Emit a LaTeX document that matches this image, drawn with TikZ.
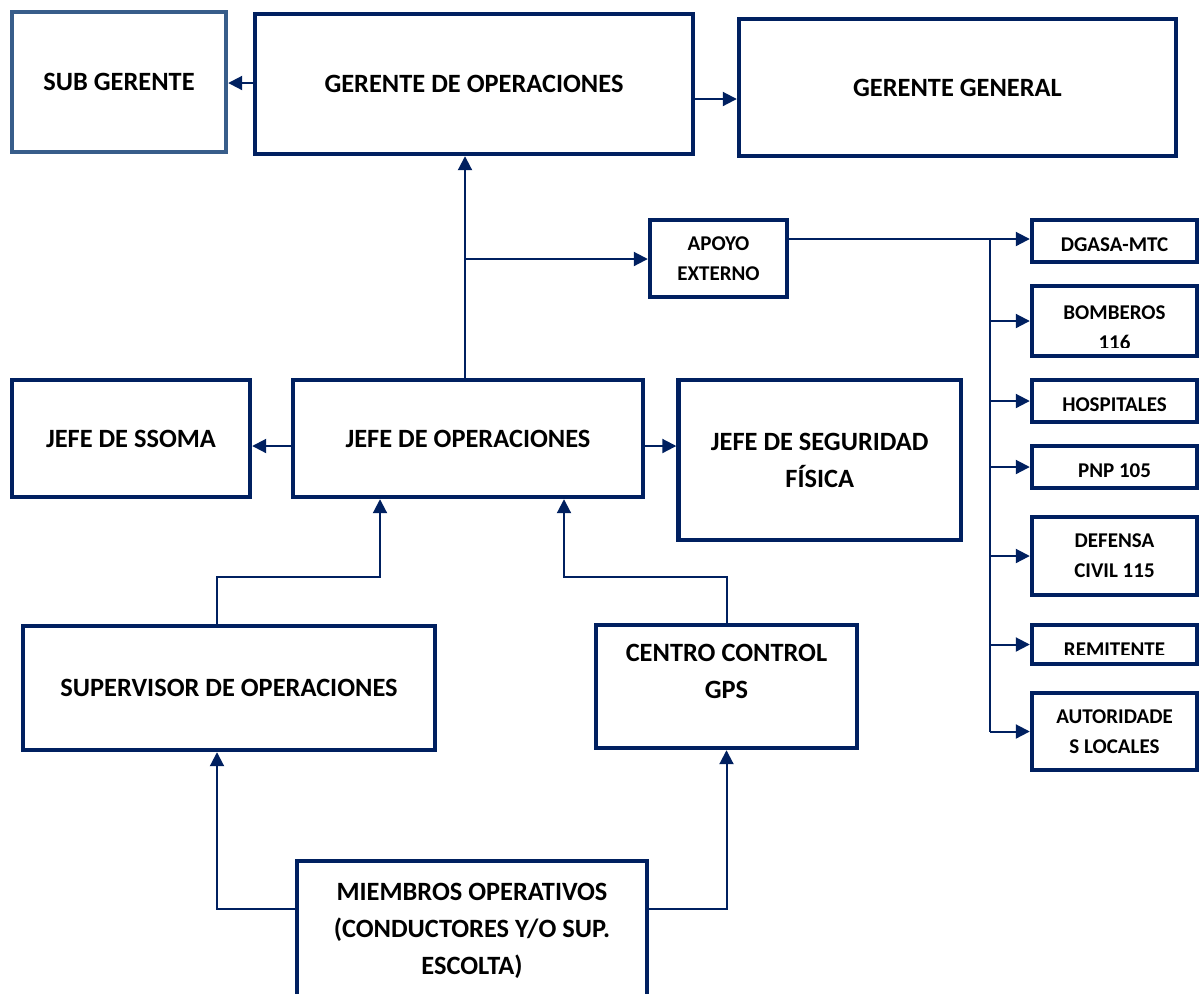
\documentclass[tikz,border=0pt]{standalone}
\usepackage{fontspec}
\setmainfont{Carlito}
\usetikzlibrary{arrows.meta}
\definecolor{navy}{HTML}{002060}
\definecolor{steel}{HTML}{385D8A}

\begin{document}
\begin{tikzpicture}[x=0.5pt,y=-0.5pt,
    txt/.style={inner sep=0pt,align=center,font=\bfseries\fontsize{13.2}{18.5}\selectfont},
    smalltxt/.style={inner sep=0pt,align=center,font=\bfseries\fontsize{10.5}{15}\selectfont},
    box/.style={txt,draw=navy,line width=2.2pt,rectangle},
    smallbox/.style={smalltxt,draw=navy,line width=2.2pt,rectangle,minimum width=82.5pt},
    oneline/.style={text height=10.8pt,text depth=0pt},
    conn/.style={draw=navy,line width=1pt,-{Triangle[length=7pt,width=7pt]}},
    link/.style={draw=navy,line width=1pt}]
    % Page size
    \useasboundingbox (0,0) rectangle (1200,993);
    \clip (0,0) rectangle (1200,993);

    % Top row
    \node[box,draw=steel,minimum width=107pt,minimum height=70pt] (subg) at (119,82) {SUB GERENTE};
    \node[box,minimum width=219pt,minimum height=70pt] (gop) at (474,84) {GERENTE DE OPERACIONES};
    \node[box,minimum width=218.5pt,minimum height=68.5pt] (gg) at (957.5,87.5) {GERENTE GENERAL};

    % Apoyo externo and its list
    \node[smallbox,minimum width=68.5pt,minimum height=38.5pt] (apoyo) at (718.5,258.5) {APOYO\\EXTERNO};
    \node[smallbox,oneline,minimum height=21pt] (dgasa) at (1114.5,241) {DGASA-MTC};
    \node[smallbox,minimum height=35pt] (bomb) at (1114.5,321) {};
    \node[smallbox,oneline,minimum height=21pt] (hosp) at (1114.5,401) {HOSPITALES};
    \node[smallbox,oneline,minimum height=21pt] (pnp) at (1114.5,467) {PNP 105};
    \node[smallbox,minimum height=39pt] (defensa) at (1114.5,556) {DEFENSA\\CIVIL 115};
    \node[smallbox,minimum height=19.5pt] (remit) at (1114.5,644.5) {};
    \node[smallbox,minimum height=38.5pt] (autor) at (1114.5,731.5) {AUTORIDADE\\S LOCALES};

    % Texts cut by their boxes
    \begin{scope}
        \clip (bomb.north west) rectangle ([yshift=5.6pt]bomb.south east);
        \node[smalltxt] (bombtxt) at (1114.5,327.5) {BOMBEROS\\116};
    \end{scope}
    \begin{scope}
        \clip (remit.north west) rectangle ([yshift=6.1pt]remit.south east);
        \node[smalltxt] (remittxt) at (1114.5,650) {REMITENTE};
    \end{scope}

    % Middle row
    \node[box,minimum width=119pt,minimum height=58.5pt] (ssoma) at (131,438.5) {JEFE DE SSOMA};
    \node[box,minimum width=175pt,minimum height=58.5pt] (jop) at (468,438.5) {JEFE DE OPERACIONES};
    \node[box,minimum width=141.25pt,minimum height=80pt] (seg) at (819.75,460) {JEFE DE SEGURIDAD\\FÍSICA};

    % Lower rows
    \node[box,minimum width=206pt,minimum height=62pt] (sup) at (229,688) {SUPERVISOR DE OPERACIONES};
    \node[box,minimum width=130.5pt,minimum height=61.5pt,
        label={[txt,yshift=7.75pt]center:CENTRO CONTROL\\GPS}] (gps) at (726.5,686.5) {};
    \node[box,minimum width=175pt,minimum height=70pt] (miem) at (472,931) {MIEMBROS OPERATIVOS\\(CONDUCTORES Y/O SUP.\\ESCOLTA)};

    % Gerente de operaciones sideways
    \draw[conn] (gop.west |- 0,83) -- (subg.east |- 0,83);
    \draw[conn] (gop.east |- 0,99) -- (gg.west |- 0,99);

    % Jefe de operaciones up to gerente
    \draw[conn] (jop.north -| 465,0) -- (gop.south -| 465,0);
    \coordinate (split) at (465,259);
    \draw[conn] (split) -- (split -| apoyo.west);

    % Apoyo externo to the list
    \coordinate (bus) at (990,239);
    \draw[conn] (apoyo.east |- bus) -- (bus -| dgasa.west);
    \draw[link] (bus) -- (bus |- autor.west);
    \foreach \t in {bomb,hosp,pnp,defensa,remit,autor}
        \draw[conn] (bus |- \t.west) -- (\t.west);

    % Jefe de operaciones sideways
    \draw[conn] (jop.west |- 0,446) -- (ssoma.east |- 0,446);
    \draw[conn] (jop.east |- 0,446) -- (seg.west |- 0,446);

    % Up to jefe de operaciones
    \draw[conn] (sup.north -| 217,0) |- (380,577) -- (jop.south -| 380,0);
    \draw[conn] (gps.north) |- (564,577) -- (jop.south -| 564,0);

    % Miembros operativos
    \draw[conn] (miem.west |- 0,909) -| (sup.south -| 217,0);
    \draw[conn] (miem.east |- 0,909) -| (gps.south);
\end{tikzpicture}
\end{document}
